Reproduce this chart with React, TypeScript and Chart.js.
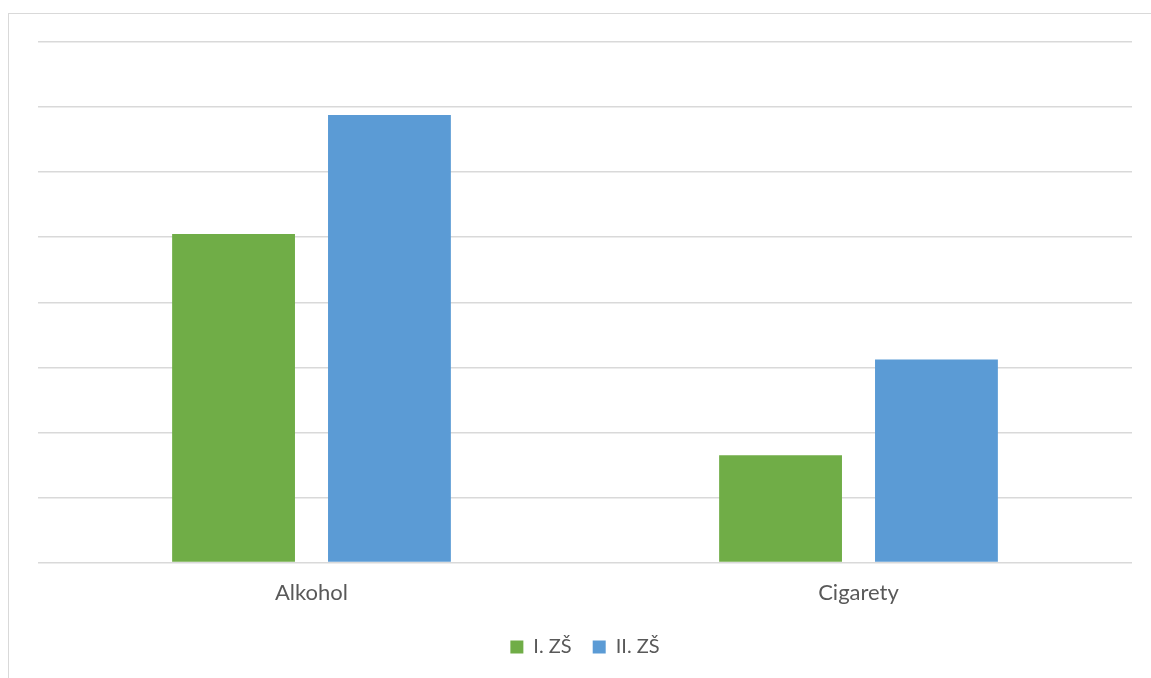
import React, { useEffect, useRef } from "react";
import { Chart, registerables } from "chart.js";

Chart.register(...registerables);

const categories = ["Alkohol", "Cigarety"];
const seriesNames = ["I. ZŠ", "II. ZŠ"];
const seriesI = [5.05, 1.65];
const seriesII = [6.88, 3.12];
const seriesColors = ["#70AD47", "#5B9BD5"];

const FONT = "Lato";

export default function App() {
  const ref = useRef<HTMLCanvasElement | null>(null);

  useEffect(() => {
    if (!ref.current) return;
    const chart = new Chart(ref.current, {
      type: "bar",
      data: {
        labels: categories,
        datasets: [
          {
            label: seriesNames[0],
            data: seriesI,
            backgroundColor: seriesColors[0],
            borderWidth: 0,
            categoryPercentage: 0.57,
            barPercentage: 0.788,
          },
          {
            label: seriesNames[1],
            data: seriesII,
            backgroundColor: seriesColors[1],
            borderWidth: 0,
            categoryPercentage: 0.57,
            barPercentage: 0.788,
          },
        ],
      },
      options: {
        animation: false,
        responsive: false,
        maintainAspectRatio: false,
        layout: { padding: { left: 38, right: 19, top: 42, bottom: 11 } },
        plugins: {
          legend: {
            position: "bottom",
            labels: {
              boxWidth: 13,
              boxHeight: 13,
              color: "#595959",
              padding: 21,
              font: { family: FONT, size: 20 },
            },
          },
          tooltip: { enabled: false },
        },
        scales: {
          x: {
            grid: { display: false },
            border: { display: false },
            ticks: {
              color: "#595959",
              padding: 9.5,
              font: { family: FONT, size: 22 },
            },
          },
          y: {
            min: 0,
            max: 8,
            ticks: { display: false, stepSize: 1 },
            grid: { color: "#d9d9d9", lineWidth: 1.5, drawTicks: false },
            border: { display: false },
          },
        },
      },
    });
    return () => chart.destroy();
  }, []);

  return (
    <div style={{ position: "fixed", left: 0, top: 0, width: 1151, height: 678, background: "#fff" }}>
      <div
        style={{
          position: "absolute",
          left: 8,
          top: 13,
          width: 1200,
          height: 700,
          borderLeft: "1px solid #d9d9d9",
          borderTop: "1px solid #d9d9d9",
        }}
      />
      <canvas
        ref={ref}
        width={1151}
        height={678}
        style={{ position: "absolute", left: 0, top: 0, width: 1151, height: 678 }}
      />
    </div>
  );
}
